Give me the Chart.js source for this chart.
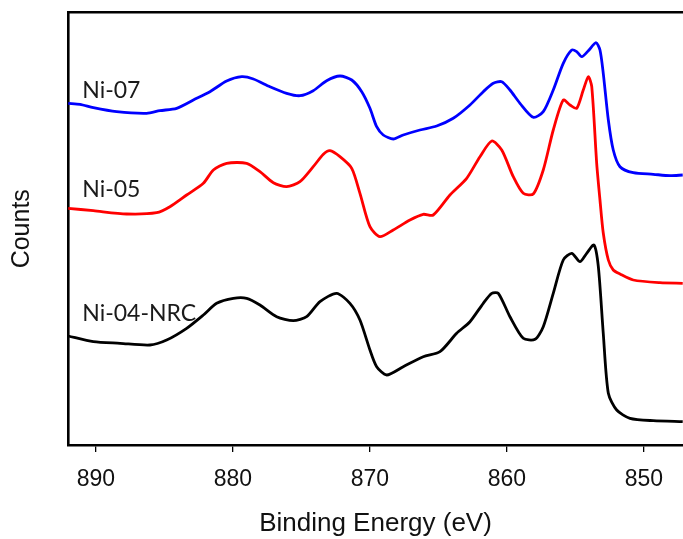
<!DOCTYPE html>
<html>
<head>
<meta charset="utf-8">
<script src="https://cdn.jsdelivr.net/npm/chart.js@4"></script>
<style>
  html, body { margin: 0; padding: 0; background: #fff; }
  #wrap { width: 683px; height: 539px; }
</style>
</head>
<body>
<div id="wrap"><canvas id="c" width="683" height="539"></canvas></div>
<script>
// ---- Data (binding energy in eV, counts in arbitrary units) ----
const ni07E = [892.02,891.16,890.19,888.49,886.30,885.33,884.11,882.89,881.68,880.46,879.36,878.51,877.30,876.08,875.11,874.14,873.16,872.19,871.33,870.60,870.00,869.51,869.03,868.30,867.57,866.35,865.13,863.92,862.70,861.73,861.00,860.38,859.78,859.05,858.08,857.35,856.62,855.89,855.27,854.91,854.54,854.06,853.50,853.21,852.97,852.60,852.24,851.75,850.78,849.32,848.10,847.17];
const ni07C = [6834,6814,6746,6666,6634,6686,6734,6900,7066,7280,7366,7320,7166,7034,6986,7086,7286,7380,7300,7066,6734,6366,6200,6120,6200,6300,6380,6534,6800,7066,7234,7266,7100,6834,6554,6666,7100,7634,7900,7866,7766,7886,8046,7900,7434,6500,5900,5566,5446,5414,5386,5400];

const ni05E = [892.02,890.19,887.76,885.57,884.60,883.38,882.16,881.43,880.46,879.00,878.03,877.05,876.08,875.11,874.14,873.40,872.92,872.19,871.33,870.73,870.00,869.27,868.30,867.08,866.11,865.38,864.16,862.94,861.97,861.11,860.38,859.54,858.81,858.08,857.35,856.62,855.89,855.40,854.91,854.43,854.06,853.81,853.45,853.21,852.97,852.60,852.24,851.75,850.78,848.83,847.17];
const ni05C = [4734,4686,4620,4646,4766,5000,5234,5500,5634,5634,5466,5246,5166,5266,5566,5814,5886,5766,5534,5034,4366,4166,4300,4500,4614,4600,5000,5334,5766,6080,5900,5366,5034,5020,5500,6300,6900,6800,6734,7100,7366,7166,5634,4900,4240,3700,3500,3420,3300,3246,3234];

const ni04E = [892.02,890.19,888.24,886.06,884.84,883.38,882.16,881.19,879.97,879.00,878.03,876.81,875.60,874.62,873.65,872.43,871.46,870.73,870.00,869.51,868.78,867.57,866.11,864.89,863.67,862.70,861.73,861.11,860.63,859.78,858.81,857.95,857.35,856.62,855.89,855.27,854.67,854.18,853.65,853.33,852.97,852.60,851.99,851.02,849.32,847.17];
const ni04C = [2180,2066,2034,2000,2100,2334,2600,2834,2934,2934,2800,2566,2486,2566,2866,3034,2834,2500,1900,1566,1400,1566,1766,1866,2234,2466,2834,3034,3034,2566,2134,2114,2366,3034,3700,3834,3666,3834,4000,3566,2234,1034,700,534,486,466];

const seriesNames  = ['Ni-07', 'Ni-05', 'Ni-04-NRC'];
const seriesColors = ['#0000ff', '#ff0000', '#000000'];
const labelE = [891.0, 891.0, 891.0];
const labelC = [6934, 4954, 2486];

const xTicks = [890, 880, 870, 860, 850];
const xMin = 847.15, xMax = 892.04;
const yMin = 0, yMax = 8650;

const toPts = (E, C) => E.map((e, i) => ({ x: e, y: C[i] }));
const allSeries = [toPts(ni07E, ni07C), toPts(ni05E, ni05C), toPts(ni04E, ni04C)];

const seriesLabelPlugin = {
  id: 'seriesLabels',
  afterDatasetsDraw(chart) {
    const { ctx, scales: { x, y } } = chart;
    ctx.save();
    ctx.font = '23px Lato, "Open Sans", sans-serif';
    ctx.fillStyle = '#1a1a1a';
    ctx.textAlign = 'left';
    ctx.textBaseline = 'alphabetic';
    seriesNames.forEach((n, i) => {
      ctx.fillText(n, x.getPixelForValue(labelE[i]), y.getPixelForValue(labelC[i]));
    });
    ctx.restore();
  }
};

new Chart(document.getElementById('c'), {
  type: 'line',
  data: {
    datasets: seriesNames.map((n, i) => ({
      label: n,
      data: allSeries[i],
      borderColor: seriesColors[i],
      borderWidth: 2.8,
      pointRadius: 0,
      tension: 0.25,
      fill: false
    }))
  },
  options: {
    responsive: false,
    animation: false,
    devicePixelRatio: 1,
    layout: { padding: { left: 0, right: 0, top: 0, bottom: 0 } },
    plugins: { legend: { display: false }, tooltip: { enabled: false } },
    scales: {
      x: {
        type: 'linear',
        position: 'bottom',
        reverse: true,
        min: xMin, max: xMax,
        afterBuildTicks: (s) => { s.ticks = xTicks.map(v => ({ value: v })); },
        ticks: {
          includeBounds: false,
          font: { family: '"Liberation Sans", Arial, sans-serif', size: 23 },
          color: '#111',
          padding: 14,
          maxRotation: 0
        },
        grid: { display: true, drawOnChartArea: false, drawTicks: true, tickLength: 7, color: '#000', lineWidth: 1.3 },
        border: { display: true, color: '#000', width: 2.6 },
        title: {
          display: true,
          text: 'Binding Energy (eV)',
          font: { family: '"Liberation Sans", Arial, sans-serif', size: 26 },
          color: '#111',
          padding: { top: 0, bottom: 0 }
        },
        afterFit: (s) => { s.height = 94; }
      },
      x2: {
        type: 'linear',
        position: 'top',
        reverse: true,
        min: xMin, max: xMax,
        ticks: { display: false },
        grid: { display: false },
        border: { display: true, color: '#000', width: 2.6 },
        afterFit: (s) => { s.height = 12.5; }
      },
      y: {
        type: 'linear',
        position: 'left',
        min: yMin, max: yMax,
        ticks: { display: false },
        grid: { display: false },
        border: { display: true, color: '#000', width: 2.6 },
        title: {
          display: true,
          text: 'Counts',
          font: { family: '"Liberation Sans", Arial, sans-serif', size: 25 },
          color: '#111',
          padding: { top: 7, bottom: 0 }
        },
        afterFit: (s) => { s.width = 68; }
      }
    }
  },
  plugins: [seriesLabelPlugin]
});
</script>
</body>
</html>
